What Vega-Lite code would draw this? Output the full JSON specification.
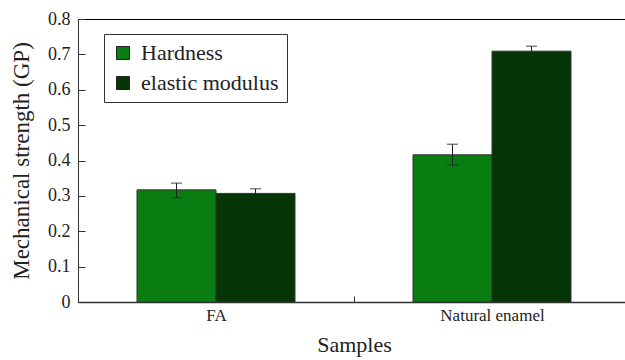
{
  "$schema": "https://vega.github.io/schema/vega-lite/v6.json",
  "autosize": "none",
  "width": 552,
  "height": 283,
  "padding": {"left": 78, "top": 19, "right": 0, "bottom": 58},
  "background": "white",
  "config": {
    "font": "Liberation Serif",
    "view": {"stroke": "#000", "strokeWidth": 1},
    "axis": {"grid": false, "domainColor": "#333", "tickColor": "#333", "labelColor": "#222", "titleColor": "#222", "labelFont": "Liberation Serif", "titleFont": "Liberation Serif", "titleFontWeight": "normal"},
    "axisY": {"title": "Mechanical strength (GP)", "values": [0, 0.1, 0.2, 0.3, 0.4, 0.5, 0.6, 0.7, 0.8], "labelOverlap": false, "format": ".1~f", "labelFontSize": 18, "titleFontSize": 23, "tickSize": -7, "labelPadding": 15, "titlePadding": 14}
  },
  "data": {
    "values": [
      {"sample": "FA", "property": "Hardness", "value": 0.317, "lo": 0.295, "hi": 0.336},
      {"sample": "FA", "property": "elastic modulus", "value": 0.307, "lo": 0.294, "hi": 0.320},
      {"sample": "Natural enamel", "property": "Hardness", "value": 0.416, "lo": 0.387, "hi": 0.446},
      {"sample": "Natural enamel", "property": "elastic modulus", "value": 0.709, "lo": 0.696, "hi": 0.723}
    ]
  },
  "encoding": {
    "x": {
      "field": "sample", "type": "nominal", "sort": null,
      "scale": {"paddingInner": 0, "paddingOuter": 0},
      "axis": {"title": "Samples", "labelAngle": 0, "labelFontSize": 17, "titleFontSize": 22, "tickBand": "extent", "tickSize": -6, "labelPadding": 11, "titlePadding": 11, "domainWidth": 1.5}
    },
    "xOffset": {"field": "property", "type": "nominal", "sort": ["Hardness", "elastic modulus"], "scale": {"paddingInner": 0, "paddingOuter": 0.747}}
  },
  "layer": [
    {
      "mark": {"type": "bar", "stroke": "#333", "strokeWidth": 1},
      "encoding": {
        "y": {
          "field": "value", "type": "quantitative",
          "scale": {"domain": [0, 0.8], "nice": false},
          "axis": {"title": "Mechanical strength (GP)", "values": [0, 0.1, 0.2, 0.3, 0.4, 0.5, 0.6, 0.7, 0.8], "labelOverlap": false, "format": ".1~f"}
        },
        "color": {
          "field": "property", "type": "nominal",
          "scale": {"domain": ["Hardness", "elastic modulus"], "range": ["#0a7d12", "#053507"]},
          "legend": {"title": null, "orient": "none", "legendX": 26, "legendY": 15, "labelFontSize": 22, "labelColor": "#222", "symbolType": "square", "symbolSize": 169, "symbolStrokeColor": "#222", "symbolStrokeWidth": 1, "symbolOpacity": 1, "labelOffset": 7, "rowPadding": 8, "padding": 8, "strokeColor": "#333", "fillColor": "white", "labelFont": "Liberation Serif"}
        }
      }
    },
    {
      "mark": {"type": "rule", "color": "#222", "strokeWidth": 1},
      "encoding": {"y": {"field": "lo", "type": "quantitative", "axis": {"title": "Mechanical strength (GP)", "values": [0, 0.1, 0.2, 0.3, 0.4, 0.5, 0.6, 0.7, 0.8], "labelOverlap": false, "format": ".1~f"}}, "y2": {"field": "hi"}}
    },
    {
      "mark": {"type": "tick", "color": "#222", "size": 11, "thickness": 1.2},
      "encoding": {"y": {"field": "lo", "type": "quantitative", "axis": {"title": "Mechanical strength (GP)", "values": [0, 0.1, 0.2, 0.3, 0.4, 0.5, 0.6, 0.7, 0.8], "labelOverlap": false, "format": ".1~f"}}}
    },
    {
      "mark": {"type": "tick", "color": "#222", "size": 11, "thickness": 1.2},
      "encoding": {"y": {"field": "hi", "type": "quantitative", "axis": {"title": "Mechanical strength (GP)", "values": [0, 0.1, 0.2, 0.3, 0.4, 0.5, 0.6, 0.7, 0.8], "labelOverlap": false, "format": ".1~f"}}}
    }
  ]
}
